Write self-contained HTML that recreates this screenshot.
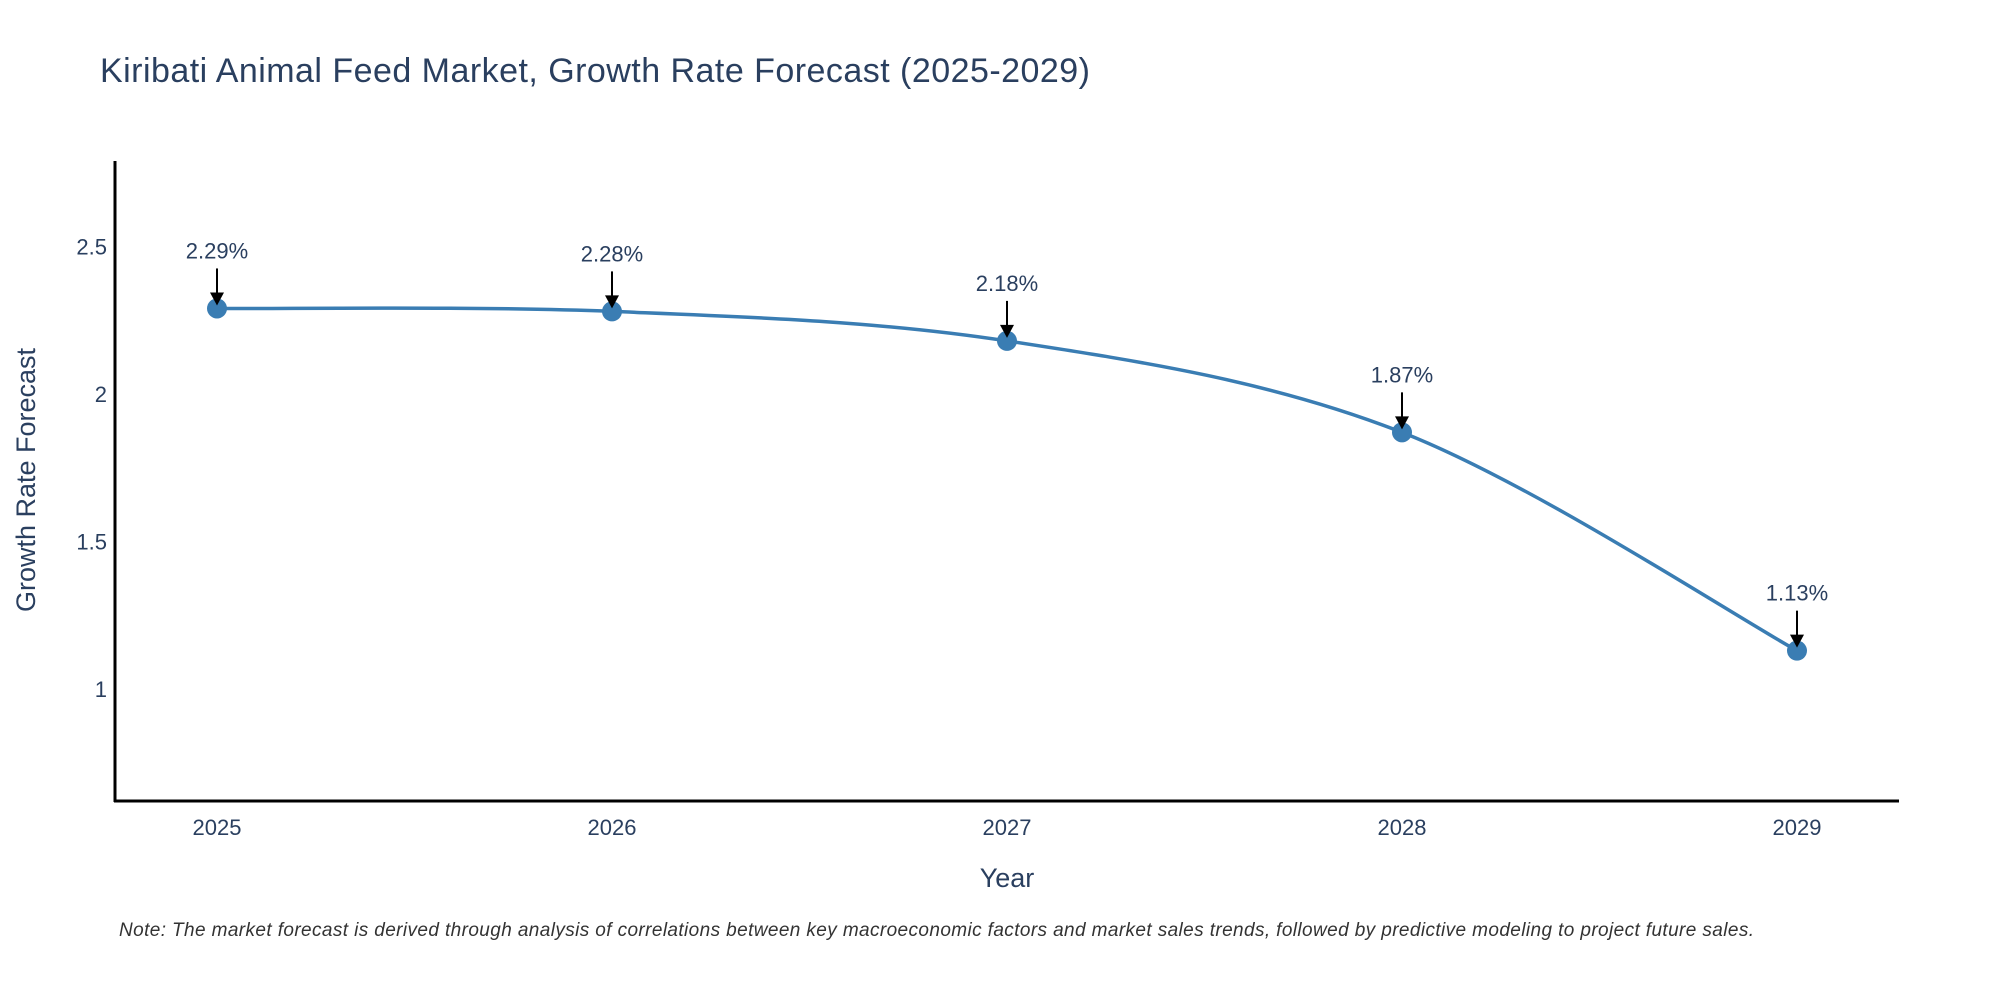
<!DOCTYPE html>
<html><head><meta charset="utf-8"><style>
body{margin:0;background:#fff;}
svg text{font-family:"Liberation Sans",sans-serif;}
</style></head><body>
<svg id="chart" width="2000" height="1000" xmlns="http://www.w3.org/2000/svg">
<text x="100" y="82" font-size="34" fill="#2a3f5f" textLength="990" lengthAdjust="spacing">Kiribati Animal Feed Market, Growth Rate Forecast (2025-2029)</text>
<g id="yticks"></g>
<g id="xticks"></g>
<line x1="115" y1="161" x2="115" y2="802" stroke="#000" stroke-width="3"/>
<line x1="114" y1="801" x2="1899" y2="801" stroke="#000" stroke-width="3"/>
<text transform="translate(35,480) rotate(-90)" text-anchor="middle" font-size="27" fill="#2a3f5f">Growth Rate Forecast</text>
<text x="1007" y="887" text-anchor="middle" font-size="27" fill="#2a3f5f">Year</text>
<g id="series"></g>
<text x="119" y="936" font-size="19" font-style="italic" fill="#333" textLength="1635" lengthAdjust="spacing">Note: The market forecast is derived through analysis of correlations between key macroeconomic factors and market sales trends, followed by predictive modeling to project future sales.</text>
</svg>
<script>
const years=["2025","2026","2027","2028","2029"];
const values=[2.29,2.28,2.18,1.87,1.13];
const labels=["2.29%","2.28%","2.18%","1.87%","1.13%"];
const yTickVals=[1,1.5,2,2.5];
const yTickLabels=["1","1.5","2","2.5"];
const NS="http://www.w3.org/2000/svg";
const xs=i=>217+i*395;
const ys=v=>689-(v-1)*295;
function mk(t,a,p){const e=document.createElementNS(NS,t);for(const k in a)e.setAttribute(k,a[k]);p.appendChild(e);return e;}
const yt=document.getElementById('yticks');
yTickVals.forEach((v,i)=>{const t=mk('text',{x:107,y:ys(v)+8,'text-anchor':'end','font-size':22,fill:'#2a3f5f'},yt);t.textContent=yTickLabels[i];

});
const xt=document.getElementById('xticks');
years.forEach((y,i)=>{const t=mk('text',{x:xs(i),y:835,'text-anchor':'middle','font-size':22,fill:'#2a3f5f'},xt);t.textContent=y;

});
const s=document.getElementById('series');
const P=values.map((v,i)=>[xs(i),ys(v)]);
let d=`M${P[0][0]},${P[0][1]}`;
for(let i=0;i<P.length-1;i++){const p0=P[Math.max(i-1,0)],p1=P[i],p2=P[i+1],p3=P[Math.min(i+2,P.length-1)];const k=1/6;
d+=` C${p1[0]+(p2[0]-p0[0])*k},${p1[1]+(p2[1]-p0[1])*k} ${p2[0]-(p3[0]-p1[0])*k},${p2[1]-(p3[1]-p1[1])*k} ${p2[0]},${p2[1]}`;}
const line=mk('path',{d:d,fill:'none',stroke:'#3a7db3','stroke-width':3.5},s);


P.forEach((p,i)=>{
const c=mk('circle',{cx:p[0],cy:p[1],r:10,fill:'#3a7db3'},s);


const l=mk('line',{x1:p[0],y1:p[1]-40,x2:p[0],y2:p[1]-14,stroke:'#000','stroke-width':2},s);


const a=mk('polygon',{points:`${p[0]-7},${p[1]-16} ${p[0]+7},${p[1]-16} ${p[0]},${p[1]-3}`,fill:'#000'},s);


const t=mk('text',{x:p[0],y:p[1]-50,'text-anchor':'middle','font-size':22,fill:'#2a3f5f'},s);t.textContent=labels[i];


});
</script>
</body></html>
